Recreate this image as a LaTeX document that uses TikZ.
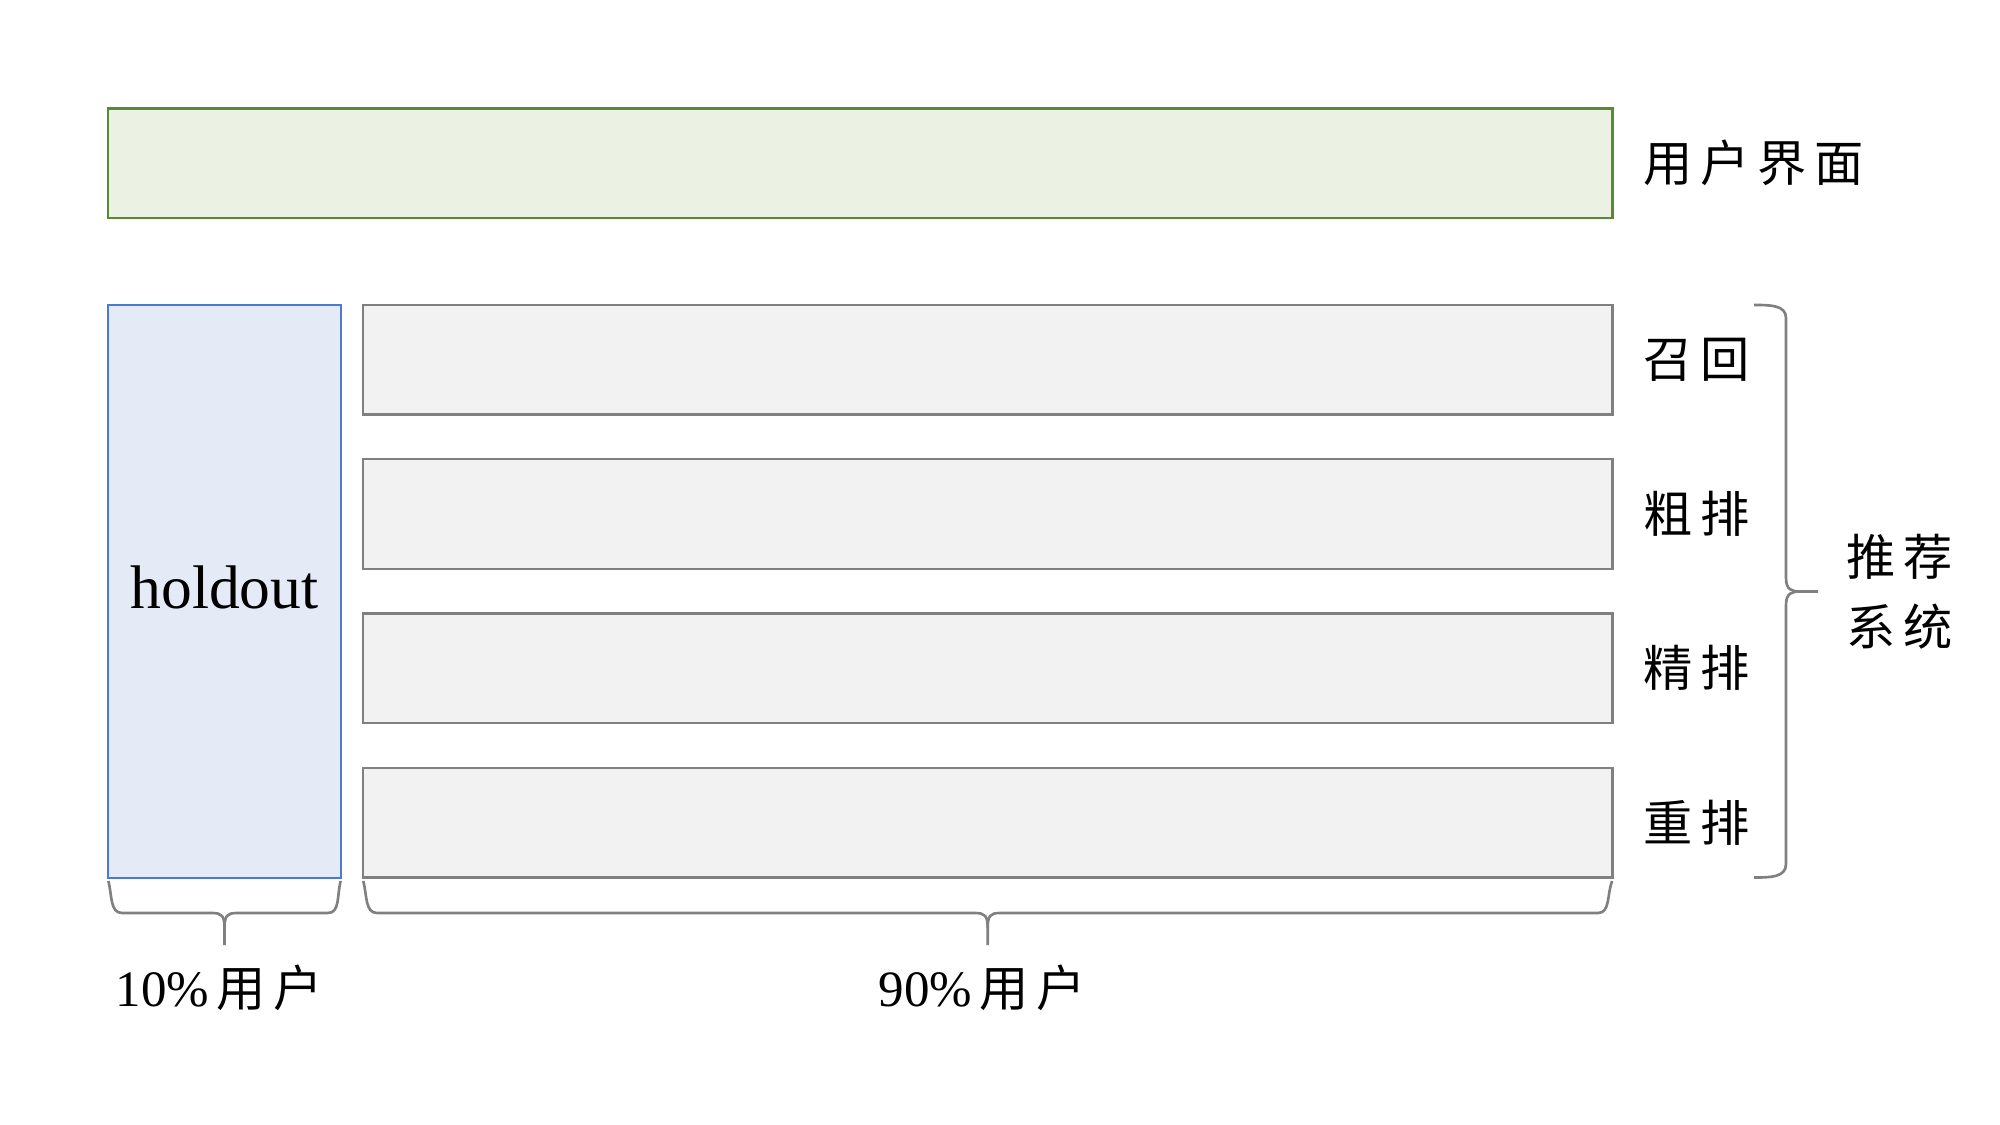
\documentclass[tikz,border=0pt]{standalone}
\usepackage{fontspec}
\setmainfont{Liberation Serif}
\newfontfamily\cjk{Noto Sans CJK SC}
\newcommand\cjkgap{\hspace{2.2pt}}
\definecolor{uifill}{RGB}{235,242,227}
\definecolor{uidraw}{RGB}{88,138,48}
\definecolor{hofill}{RGB}{228,234,246}
\definecolor{hodraw}{RGB}{74,123,208}
\definecolor{gyfill}{RGB}{242,242,242}
\definecolor{gydraw}{RGB}{128,128,128}
\begin{document}
\begin{tikzpicture}[x=0.01cm,y=-0.01cm,
  box/.style={inner sep=0pt,outer sep=0pt,line width=0.65pt},
  uibox/.style={box,draw=uidraw,fill=uifill,minimum width=15.036cm,minimum height=1.096cm},
  hobox/.style={box,draw=hodraw,fill=hofill,minimum width=2.323cm,minimum height=5.727cm},
  gybox/.style={box,draw=gydraw,fill=gyfill,minimum width=12.487cm,minimum height=1.095cm},
  cjktxt/.style={inner sep=0pt,font=\cjk\fontsize{14pt}{20pt}\selectfont},
  lattxt/.style={inner sep=0pt,font=\fontsize{14.5pt}{17pt}\selectfont},
  brace/.style={draw=gydraw,line width=0.75pt}]
\path[use as bounding box] (0,0) rectangle (2000,1125);
\node[uibox] (ui) at (860.2,163.2) {};
\node[hobox] (hold) at (224.5,591.2) {};
\node[font=\fontsize{17.5pt}{20pt}\selectfont] (holdtxt) at ([yshift=0.04cm]hold.center) {holdout};
\node[gybox] (r1) at (987.7,359.7) {};
\node[gybox] (r2) at (987.7,514) {};
\node[gybox] (r3) at (987.7,668.4) {};
\node[gybox] (r4) at (987.7,822.7) {};
\node[cjktxt] (tui) at (1754,163) {用\cjkgap 户\cjkgap 界\cjkgap 面};
\node[cjktxt] (t1) at (1697,360) {召\cjkgap 回};
\node[cjktxt] (t2) at (1697,514) {粗\cjkgap 排};
\node[cjktxt] (t3) at (1697,668) {精\cjkgap 排};
\node[cjktxt] (t4) at (1697,823) {重\cjkgap 排};
\node[cjktxt,align=center] (tsys) at (1900,592) {推\cjkgap 荐\\系\cjkgap 统};
\node[lattxt] (p10) at (219,988) {10\%\hspace{2pt}\cjk\fontsize{14pt}{17pt}\selectfont 用\cjkgap 户};
\node[lattxt] (p90) at (982,988) {90\%\hspace{2pt}\cjk\fontsize{14pt}{17pt}\selectfont 用\cjkgap 户};
% bottom-left brace
\draw[brace] (108.4,881) .. controls (112,895) and (110,913) .. (122,913) -- (212,913)
  .. controls (222,913) and (224.5,916) .. (224.5,928) -- (224.5,945);
\draw[brace] (224.5,928) .. controls (224.5,916) and (227,913) .. (237,913) -- (328,913)
  .. controls (340,913) and (337,895) .. (340.6,881);
% bottom-right brace
\draw[brace] (363.3,881) .. controls (367,895) and (365,913) .. (377,913) -- (975,913)
  .. controls (985,913) and (987.7,916) .. (987.7,928) -- (987.7,945);
\draw[brace] (987.7,928) .. controls (987.7,916) and (990,913) .. (1000,913) -- (1598,913)
  .. controls (1610,913) and (1607,895) .. (1612,881);
% right brace
\draw[brace] (1754,305) .. controls (1770,305) and (1786,305) .. (1786,318) -- (1786,578)
  .. controls (1786,590) and (1792,591.5) .. (1800,591.5) -- (1818,591.5);
\draw[brace] (1800,591.5) .. controls (1792,591.5) and (1786,593) .. (1786,605) -- (1786,864)
  .. controls (1786,877.5) and (1770,877.5) .. (1754,877.5);
\end{tikzpicture}
\end{document}
